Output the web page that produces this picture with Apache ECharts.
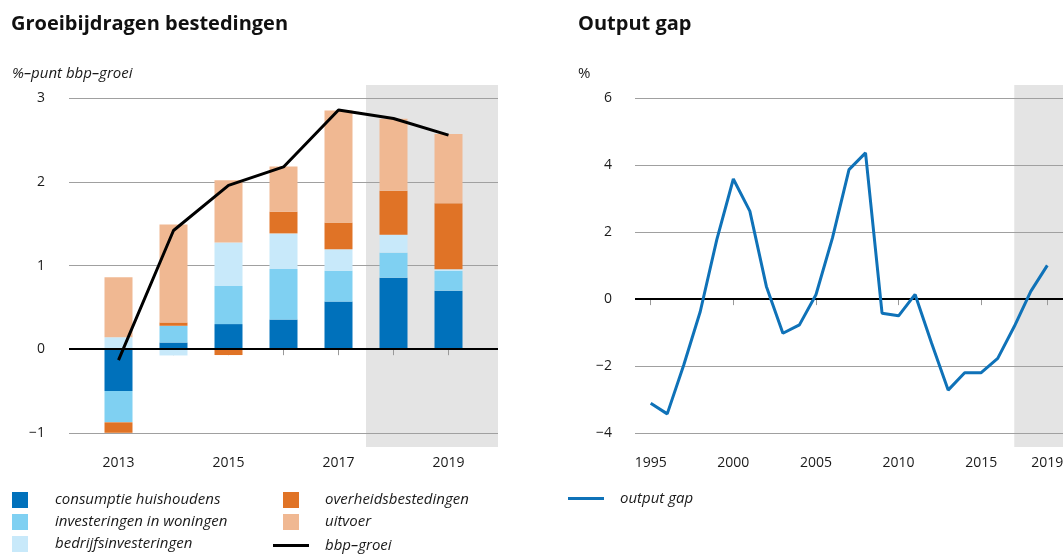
<!DOCTYPE html>
<html>
<head>
<meta charset="utf-8">
<script src="https://cdn.jsdelivr.net/npm/echarts@6/dist/echarts.min.js"></script>
<style>
  html, body { margin: 0; padding: 0; background: #fff; }
  #main { width: 1063px; height: 554px; }
</style>
</head>
<body>
<div id="main"></div>
<script>
var chartDom = document.getElementById('main');
var myChart = echarts.init(chartDom);
var option;

// left panel: contributions to GDP growth (%-punt)
var years = [2013, 2014, 2015, 2016, 2017, 2018, 2019];
var consumptie = [-0.50, 0.08, 0.30, 0.355, 0.57, 0.855, 0.70];
var woningen = [-0.375, 0.20, 0.455, 0.605, 0.37, 0.30, 0.235];
var bedrijf = [0.143, -0.075, 0.52, 0.425, 0.255, 0.215, 0.02];
var overheid = [-0.125, 0.04, -0.07, 0.26, 0.32, 0.525, 0.79];
var uitvoer = [0.717, 1.17, 0.745, 0.54, 1.34, 0.86, 0.83];
var bbpGroei = [-0.13, 1.42, 1.96, 2.18, 2.86, 2.76, 2.56];
var leftYTicks = [-1, 0, 1, 2, 3];
var leftXLabels = [2013, 2015, 2017, 2019];

// right panel: output gap (%)
var gapYears = [1995, 1996, 1997, 1998, 1999, 2000, 2001, 2002, 2003, 2004, 2005, 2006,
  2007, 2008, 2009, 2010, 2011, 2012, 2013, 2014, 2015, 2016, 2017, 2018, 2019];
var outputGap = [-3.11, -3.43, -1.97, -0.37, 1.78, 3.59, 2.63, 0.38, -1.02, -0.77, 0.13, 1.83,
  3.87, 4.37, -0.42, -0.50, 0.14, -1.32, -2.72, -2.20, -2.20, -1.77, -0.82, 0.23, 1.01];
var rightYTicks = [-4, -2, 0, 2, 4, 6];
var rightXTicks = [1995, 2000, 2005, 2010, 2015, 2019];

// forecast shading starts
var ramingStartLeft = 2017.5;
var ramingStartRight = 2017;

var font = 'Open Sans';
var txt = '#1a1a1a';

function pairs(xs, vs) {
  return xs.map(function (x, i) { return [x, vs[i]]; });
}

// value first so the stack is computed on the y dimension
function barSeries(name, values, color) {
  return {
    name: name,
    type: 'bar',
    stack: 'bijdrage',
    xAxisIndex: 0,
    yAxisIndex: 0,
    barWidth: 28,
    z: 2,
    itemStyle: { color: color },
    encode: { x: 1, y: 0 },
    data: values.map(function (v, i) { return [v, years[i]]; })
  };
}

function minusFmt(v) { return v < 0 ? '\u2212' + Math.abs(v) : String(v); }

var legendText = { fontFamily: font, fontStyle: 'italic', fontSize: 15, color: txt };

option = {
  animation: false,
  textStyle: { fontFamily: font },
  title: [
    { text: 'Groeibijdragen bestedingen', left: 11, top: 14, padding: 0,
      textStyle: { fontFamily: font, fontSize: 20, fontWeight: 'bold', color: '#111' } },
    { text: 'Output gap', left: 578, top: 14, padding: 0,
      textStyle: { fontFamily: font, fontSize: 20, fontWeight: 'bold', color: '#111' } },
    { text: '%\u2013punt bbp\u2013groei', left: 12, top: 66, padding: 0,
      textStyle: { fontFamily: font, fontSize: 15, fontStyle: 'italic', fontWeight: 'normal', color: txt } },
    { text: '%', left: 578, top: 66, padding: 0,
      textStyle: { fontFamily: font, fontSize: 15, fontWeight: 'normal', color: txt } }
  ],
  legend: [
    { orient: 'vertical', left: 12, top: 492, height: 80, padding: 0,
      itemWidth: 16, itemHeight: 16, itemGap: 6, icon: 'rect', selectedMode: false,
      textStyle: Object.assign({ padding: [0, 0, 0, 22] }, legendText),
      data: ['consumptie huishoudens', 'investeringen in woningen', 'bedrijfsinvesteringen'] },
    { orient: 'vertical', left: 283, top: 492, height: 80, padding: 0,
      itemWidth: 16, itemHeight: 16, itemGap: 6, icon: 'rect', selectedMode: false,
      textStyle: Object.assign({ padding: [0, 0, 0, 21] }, legendText),
      data: ['overheidsbestedingen', 'uitvoer'] },
    { orient: 'vertical', left: 273, top: 538, height: 30, padding: 0,
      itemWidth: 36, itemHeight: 3, icon: 'rect', selectedMode: false,
      textStyle: Object.assign({ padding: [0, 0, 0, 11] }, legendText),
      data: ['bbp\u2013groei'] },
    { orient: 'vertical', left: 568, top: 491, height: 30, padding: 0,
      itemWidth: 36, itemHeight: 3, icon: 'rect', selectedMode: false,
      textStyle: Object.assign({ padding: [0, 0, 0, 11] }, legendText),
      data: ['output gap'] }
  ],
  grid: [
    { left: 69, right: 565, top: 85, bottom: 107, outerBoundsMode: 'none' },
    { left: 635, right: 0, top: 85, bottom: 107, outerBoundsMode: 'none' }
  ],
  xAxis: [
    {
      type: 'value', gridIndex: 0, min: 2012.1, max: 2019.9,
      axisLine: { show: false },
      axisTick: { show: true, length: 6, customValues: years, lineStyle: { color: '#999' } },
      axisLabel: { customValues: leftXLabels, margin: 9, fontSize: 14, color: txt, fontFamily: font,
        formatter: function (v) { return String(v); } },
      splitLine: { show: false }
    },
    {
      type: 'value', gridIndex: 1, min: 1994.05, max: 2019.95,
      axisLine: { show: false },
      axisTick: { show: true, length: 6, customValues: rightXTicks, lineStyle: { color: '#999' } },
      axisLabel: { customValues: rightXTicks, margin: 9, fontSize: 14, color: txt, fontFamily: font,
        formatter: function (v) { return String(v); } },
      splitLine: { show: false }
    }
  ],
  yAxis: [
    {
      type: 'value', gridIndex: 0, min: -1.17, max: 3.16, z: 1,
      axisLine: { show: false },
      axisTick: { show: false, customValues: leftYTicks },
      axisLabel: { customValues: leftYTicks, margin: 24, fontSize: 14, color: txt, fontFamily: font,
        padding: [3, 0, 0, 0], formatter: minusFmt },
      splitLine: { show: true, lineStyle: { color: '#a0a0a0', width: 1 } }
    },
    {
      type: 'value', gridIndex: 1, min: -4.42, max: 6.4, z: 1,
      axisLine: { show: false },
      axisTick: { show: false, customValues: rightYTicks },
      axisLabel: { customValues: rightYTicks, margin: 23, fontSize: 14, color: txt, fontFamily: font,
        padding: [3, 0, 0, 0], formatter: minusFmt },
      splitLine: { show: true, lineStyle: { color: '#a0a0a0', width: 1 } }
    }
  ],
  series: [
    {
      name: 'raming-links', type: 'line', xAxisIndex: 0, yAxisIndex: 0, data: [], z: 0,
      markArea: { silent: true, z: 0, itemStyle: { color: '#e4e4e4' },
        data: [[{ xAxis: ramingStartLeft }, { xAxis: 2019.9 }]] }
    },
    {
      name: 'raming-rechts', type: 'line', xAxisIndex: 1, yAxisIndex: 1, data: [], z: 0,
      markArea: { silent: true, z: 0, itemStyle: { color: '#e4e4e4' },
        data: [[{ xAxis: ramingStartRight }, { xAxis: 2019.95 }]] }
    },
    barSeries('consumptie huishoudens', consumptie, '#0071bb'),
    barSeries('investeringen in woningen', woningen, '#7fd0f2'),
    barSeries('bedrijfsinvesteringen', bedrijf, '#c8e9fa'),
    barSeries('overheidsbestedingen', overheid, '#e07326'),
    barSeries('uitvoer', uitvoer, '#f0b892'),
    {
      name: 'bbp\u2013groei', type: 'line', xAxisIndex: 0, yAxisIndex: 0,
      symbol: 'none', z: 4, color: '#000',
      lineStyle: { color: '#000', width: 3 },
      data: pairs(years, bbpGroei),
      markLine: { silent: true, symbol: 'none', z: 3, label: { show: false },
        lineStyle: { color: '#000', width: 2, type: 'solid' },
        data: [{ yAxis: 0 }] }
    },
    {
      name: 'output gap', type: 'line', xAxisIndex: 1, yAxisIndex: 1,
      symbol: 'none', z: 4, color: '#0f72b8',
      lineStyle: { color: '#0f72b8', width: 3 },
      data: pairs(gapYears, outputGap),
      markLine: { silent: true, symbol: 'none', z: 3, label: { show: false },
        lineStyle: { color: '#000', width: 2, type: 'solid' },
        data: [{ yAxis: 0 }] }
    }
  ]
};

option && myChart.setOption(option);
</script>
</body>
</html>
